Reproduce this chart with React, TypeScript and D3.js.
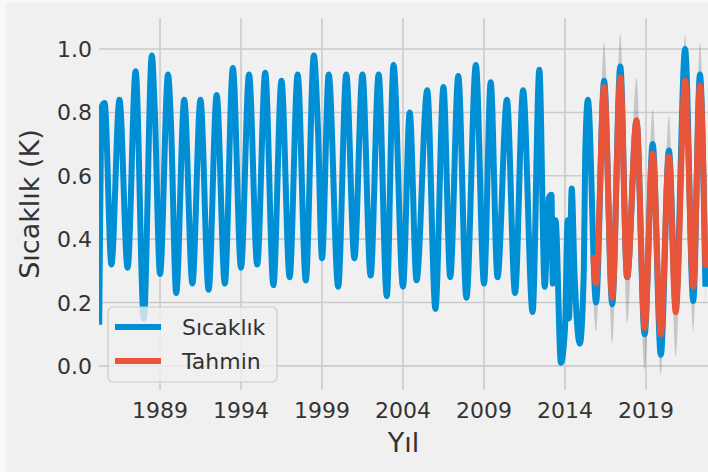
import { useRef, useEffect } from "react";
import * as d3 from "d3";

const obsDates = [
  "1985-04", "1985-06", "1985-08", "1986-01", "1986-07", "1987-01", "1987-07", "1988-01",
  "1988-07", "1988-09", "1989-01", "1989-07", "1989-09", "1990-01", "1990-07", "1991-01",
  "1991-07", "1992-01", "1992-07", "1993-01", "1993-07", "1994-01", "1994-07", "1995-01",
  "1995-07", "1996-01", "1996-07", "1997-01", "1997-07", "1998-01", "1998-07", "1998-10",
  "1999-01", "1999-06", "2000-01", "2000-07", "2001-01", "2001-07", "2002-01", "2002-07",
  "2003-01", "2003-06", "2004-01", "2004-06", "2004-11", "2005-07", "2006-01", "2006-07",
  "2006-12", "2007-06", "2007-12", "2008-07", "2009-01", "2009-06", "2009-11", "2010-06",
  "2010-12", "2011-06", "2012-01", "2012-06", "2012-10", "2013-01", "2013-03", "2013-04",
  "2013-06", "2013-10", "2014-01", "2014-03", "2014-04", "2014-06", "2014-08", "2014-12",
  "2015-03", "2015-04", "2015-06", "2015-12", "2016-06", "2016-12", "2017-06", "2017-11",
  "2018-06", "2018-12", "2019-06", "2019-12", "2020-06", "2020-11", "2021-06", "2021-12",
  "2022-05", "2022-09",
];
const obsValues = [
  0.13, 0.82, 0.83, 0.32, 0.84, 0.31, 0.93, 0.15,
  0.98, 0.82, 0.29, 0.92, 0.78, 0.23, 0.84, 0.26,
  0.84, 0.24, 0.855, 0.26, 0.94, 0.31, 0.92, 0.32,
  0.925, 0.255, 0.9, 0.28, 0.92, 0.27, 0.98, 0.75,
  0.34, 0.92, 0.25, 0.92, 0.34, 0.92, 0.285, 0.92,
  0.22, 0.95, 0.25, 0.8, 0.27, 0.87, 0.18, 0.88,
  0.28, 0.915, 0.215, 0.95, 0.26, 0.895, 0.28, 0.84,
  0.23, 0.87, 0.17, 0.935, 0.25, 0.53, 0.54, 0.26,
  0.46, 0.01, 0.12, 0.46, 0.15, 0.56, 0.3, 0.07,
  0.3, 0.66, 0.84, 0.2, 0.9, 0.195, 0.945, 0.28,
  0.77, 0.1, 0.7, 0.035, 0.68, 0.19, 1.0, 0.205,
  0.92, 0.25,
];

// one-step-ahead forecast and its confidence interval
const predDates = [
  "2015-10", "2015-12", "2016-06", "2016-12", "2017-06", "2017-11", "2018-06", "2018-12",
  "2019-06", "2019-12", "2020-06", "2020-11", "2021-06", "2021-12", "2022-05", "2022-09",
];
const predValues = [0.35, 0.26, 0.88, 0.215, 0.91, 0.28, 0.775, 0.12, 0.67, 0.1, 0.66, 0.17, 0.9, 0.25, 0.885, 0.31];
const ciLower = [0.21, 0.11, 0.74, 0.07, 0.77, 0.135, 0.64, -0.01, 0.53, -0.03, 0.52, 0.03, 0.76, 0.11, 0.75, 0.17];
const ciUpper = [0.49, 0.4, 1.02, 0.36, 1.05, 0.42, 0.91, 0.26, 0.81, 0.24, 0.79, 0.31, 1.045, 0.39, 1.02, 0.45];

const yTicks = [0, 0.2, 0.4, 0.6, 0.8, 1.0];
const xTickYears = [1989, 1994, 1999, 2004, 2009, 2014, 2019];
const legendLabels = ["Sıcaklık", "Tahmin"];

const BLUE = "#008fd5";
const RED = "#e9553b";
const FONT = "'DejaVu Sans', sans-serif";

export default function App() {
  const svgRef = useRef<SVGSVGElement>(null);

  useEffect(() => {
    if (!svgRef.current) return;
    const svg = d3.select(svgRef.current);
    svg.selectAll("*").remove();

    const w = 708, h = 472;
    const left = 99, right = 708, top = 18, bottom = 390;
    const parse = d3.timeParse("%Y-%m");

    const x = d3.scaleTime()
      .domain([new Date(1985, 2, 27), new Date(2022, 9, 30)])
      .range([left, right]);
    const y = d3.scaleLinear().domain([-0.076, 1.098]).range([bottom, top]);

    // page edge + figure background
    svg.append("rect").attr("width", w).attr("height", h).attr("fill", "#f8f8f8");
    svg.append("rect").attr("x", 6).attr("y", 3).attr("width", w - 6).attr("height", h - 3).attr("fill", "#f0f0f0");

    svg.append("defs").append("clipPath").attr("id", "plotClip")
      .append("rect").attr("x", left).attr("y", top).attr("width", right - left).attr("height", bottom - top);

    // grid
    const grid = svg.append("g").attr("stroke", "#cbcbcb").attr("stroke-width", 1.6);
    yTicks.forEach(t => {
      grid.append("line").attr("x1", left).attr("x2", right).attr("y1", y(t)).attr("y2", y(t));
    });
    xTickYears.forEach(yr => {
      const xx = x(new Date(yr, 0, 1));
      grid.append("line").attr("x1", xx).attr("x2", xx).attr("y1", top).attr("y2", bottom);
    });

    // tick labels
    yTicks.forEach(t => {
      svg.append("text")
        .attr("x", 92).attr("y", y(t) + 8)
        .attr("text-anchor", "end")
        .attr("fill", "#333").attr("font-size", 22).attr("font-family", FONT)
        .text(t.toFixed(1));
    });
    xTickYears.forEach(yr => {
      svg.append("text")
        .attr("x", x(new Date(yr, 0, 1))).attr("y", 418)
        .attr("text-anchor", "middle")
        .attr("fill", "#333").attr("font-size", 22).attr("font-family", FONT)
        .text(String(yr));
    });

    // axis labels
    svg.append("text")
      .attr("x", (left + right) / 2).attr("y", 452)
      .attr("text-anchor", "middle")
      .attr("fill", "#333").attr("font-size", 27).attr("font-family", FONT)
      .text("Yıl");
    svg.append("text")
      .attr("transform", `translate(39,${(top + bottom) / 2}) rotate(-90)`)
      .attr("text-anchor", "middle")
      .attr("fill", "#333").attr("font-size", 27).attr("font-family", FONT)
      .text("Sıcaklık (K)");

    const plot = svg.append("g").attr("clip-path", "url(#plotClip)");

    const obs = obsDates.map((d, i) => ({ date: parse(d)!, v: obsValues[i] }));
    const pred = predDates.map((d, i) => ({ date: parse(d)!, v: predValues[i], lo: ciLower[i], hi: ciUpper[i] }));

    // confidence band (drawn under the lines, only the tips stay visible)
    const band = d3.area<any>()
      .x(d => x(d.date)).y0(d => y(d.lo)).y1(d => y(d.hi))
      .curve(d3.curveMonotoneX);
    plot.append("path").attr("d", band(pred)!).attr("fill", "#000").attr("fill-opacity", 0.17);

    const line = d3.line<any>().x(d => x(d.date)).y(d => y(d.v)).curve(d3.curveMonotoneX);
    plot.append("path").attr("d", line(obs)!)
      .attr("fill", "none").attr("stroke", BLUE).attr("stroke-width", 6).attr("stroke-linejoin", "round");
    plot.append("path").attr("d", line(pred)!)
      .attr("fill", "none").attr("stroke", RED).attr("stroke-width", 6).attr("stroke-linejoin", "round");

    // legend
    const lg = svg.append("g");
    lg.append("rect")
      .attr("x", 108).attr("y", 307).attr("width", 169).attr("height", 75).attr("rx", 5)
      .attr("fill", "#f0f0f0").attr("fill-opacity", 0.8)
      .attr("stroke", "#cccccc").attr("stroke-width", 1.2);
    [BLUE, RED].forEach((c, i) => {
      const ly = 327 + i * 34;
      lg.append("line").attr("x1", 115).attr("x2", 161).attr("y1", ly).attr("y2", ly)
        .attr("stroke", c).attr("stroke-width", 6);
      lg.append("text").attr("x", 182).attr("y", ly + 8)
        .attr("fill", "#333").attr("font-size", 22).attr("font-family", FONT)
        .text(legendLabels[i]);
    });
  }, []);

  return (
    <svg ref={svgRef} width={708} height={472}
      style={{ position: "absolute", left: 0, top: 0, display: "block" }} />
  );
}
